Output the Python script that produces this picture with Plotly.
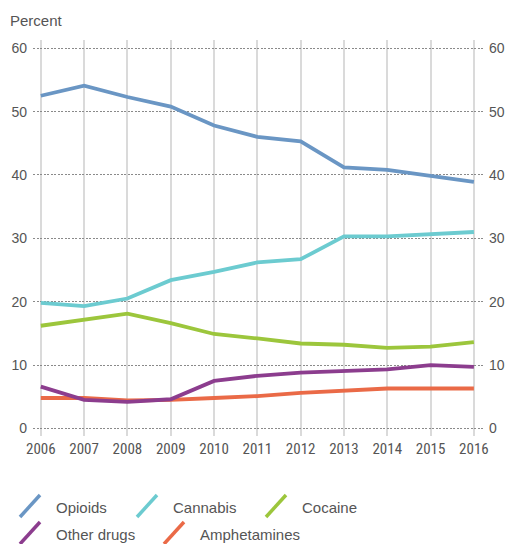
import plotly.graph_objects as go

years = [2006, 2007, 2008, 2009, 2010, 2011, 2012, 2013, 2014, 2015, 2016]
opioids = [52.5, 54.1, 52.3, 50.8, 47.8, 46.0, 45.3, 41.2, 40.8, 39.9, 38.9]
cannabis = [19.8, 19.3, 20.5, 23.4, 24.7, 26.2, 26.7, 30.3, 30.3, 30.6, 31.0]
cocaine = [16.2, 17.1, 18.1, 16.6, 14.9, 14.2, 13.4, 13.2, 12.7, 12.9, 13.6]
other_drugs = [6.6, 4.5, 4.2, 4.6, 7.5, 8.3, 8.8, 9.0, 9.3, 10.0, 9.7]
amphetamines = [4.8, 4.8, 4.4, 4.5, 4.8, 5.1, 5.6, 6.0, 6.3, 6.3, 6.3]

series_names = ["Opioids", "Cannabis", "Cocaine", "Other drugs", "Amphetamines"]
series_values = [opioids, cannabis, cocaine, other_drugs, amphetamines]
colors = ["#6a96c4", "#6ccbd0", "#9cc63c", "#8c3d8e", "#ea6a47"]
y_ticks = [0, 10, 20, 30, 40, 50, 60]

W, H = 506, 544
L, R, T, B = 33, 23, 40, 108
pw, ph = W - L - R, H - T - B

def px(x):
    return (x - L) / pw

def py(y):
    return (H - B - y) / ph

font_fam = "Liberation Sans Narrow, Roboto Condensed, Liberation Sans, Arial, sans-serif"
font_leg = "Liberation Sans, Arial, sans-serif"
tcol = "#555555"

fig = go.Figure()
for name, vals, col in reversed(list(zip(series_names, series_values, colors))):
    fig.add_trace(go.Scatter(x=years, y=vals, mode="lines", name=name,
                             line=dict(color=col, width=3.8), showlegend=False))
fig.add_trace(go.Scatter(x=years, y=opioids, mode="lines", yaxis="y2",
                         line=dict(width=0), opacity=0, showlegend=False, hoverinfo="skip"))

yr = [-1.2, 61.3]
fig.update_layout(
    width=W, height=H,
    margin=dict(l=L, r=R, t=T, b=B, autoexpand=False),
    paper_bgcolor="white", plot_bgcolor="white",
    xaxis=dict(range=[2005.82, 2016.21], tickvals=years, ticktext=[str(y) for y in years],
               showgrid=True, gridcolor="#dadada", gridwidth=1.5, zeroline=False,
               showline=False, ticks="", tickfont=dict(family=font_fam, size=15, color=tcol),
               ticklabelstandoff=2, automargin=False),
    yaxis=dict(range=yr, tickvals=y_ticks, showgrid=True, gridcolor="#8a8a8a", gridwidth=1,
               griddash="2px,1.5px", zeroline=False, showline=False, ticks="",
               tickfont=dict(family=font_leg, size=14, color=tcol), ticklabelstandoff=5,
               automargin=False),
    yaxis2=dict(range=yr, tickvals=y_ticks, overlaying="y", side="right", showgrid=False,
                zeroline=False, showline=False, ticks="",
                tickfont=dict(family=font_leg, size=14, color=tcol), ticklabelstandoff=5,
                automargin=False),
    showlegend=False,
)

fig.add_annotation(text="Percent", xref="paper", yref="paper", x=px(8), y=py(21),
                   xanchor="left", yanchor="middle", showarrow=False,
                   font=dict(family=font_leg, size=15, color=tcol))

leg_pos = [(20, 507), (137, 507), (266, 507), (20, 534), (164, 534)]
for (lx, ly), name, col in zip(leg_pos, series_names, colors):
    fig.add_shape(type="line", xref="paper", yref="paper",
                  x0=px(lx), y0=py(ly + 10), x1=px(lx + 20), y1=py(ly - 12),
                  line=dict(color=col, width=3.5))
    fig.add_annotation(text=name, xref="paper", yref="paper", x=px(lx + 34), y=py(ly),
                       xanchor="left", yanchor="middle", showarrow=False,
                       font=dict(family=font_leg, size=15, color=tcol))

fig.write_html("out.html", config={"displayModeBar": False},
               post_script="document.body.style.margin='0';document.body.style.overflow='hidden';")
